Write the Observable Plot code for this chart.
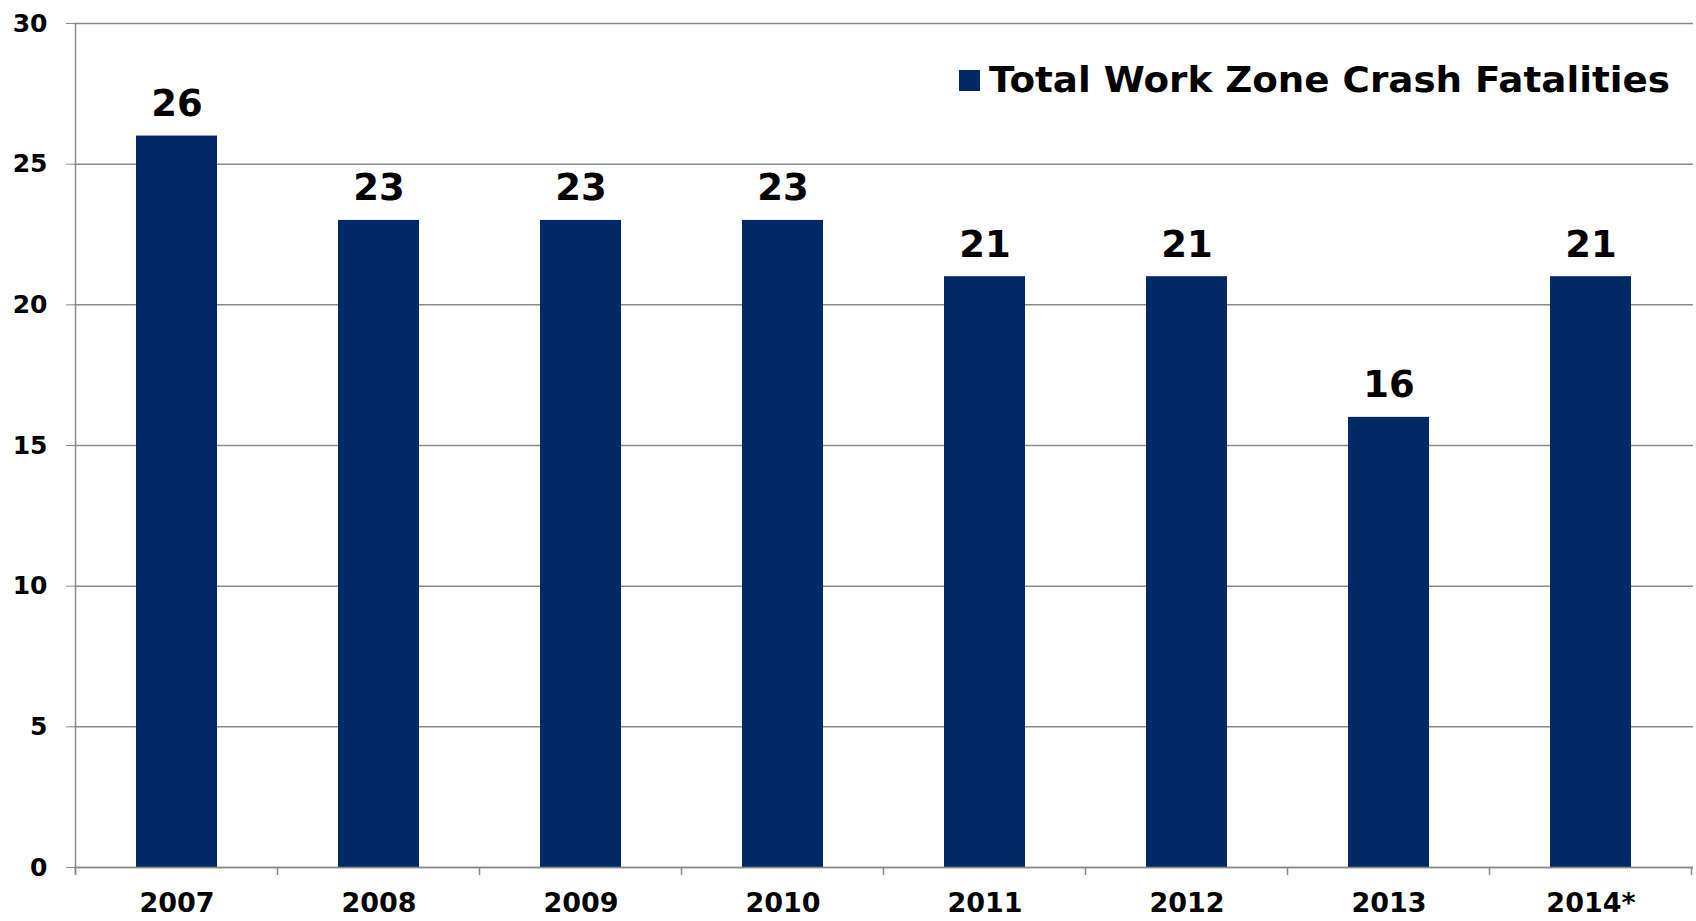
<!DOCTYPE html>
<html>
<head>
<meta charset="utf-8">
<script src="https://cdn.jsdelivr.net/npm/d3@7"></script>
<script src="https://cdn.jsdelivr.net/npm/@observablehq/plot@0.6"></script>
<style>
  html, body { margin: 0; padding: 0; background: #fff; }
  #wrap { position: relative; width: 1696px; height: 921px; }
  #legend { position: absolute; left: 0; top: 0; pointer-events: none; }
</style>
</head>
<body>
<div id="wrap"></div>
<script>
const years = ["2007", "2008", "2009", "2010", "2011", "2012", "2013", "2014*"];
const fatalities = [26, 23, 23, 23, 21, 21, 16, 21];
const yTicks = [0, 5, 10, 15, 20, 25, 30];
const seriesName = "Total Work Zone Crash Fatalities";
const barColor = "#012966";
const gridColor = "#8a8a8a";
const fontFamily = "'DejaVu Sans', Verdana, sans-serif";

const data = years.map((year, i) => ({year, value: fatalities[i]}));

// y-axis line plus ticks at band boundaries on the category axis
function axisFrame(index, scales, values, dimensions) {
  const x = scales.x, y = scales.y;
  const dom = x.domain();
  const bw = x.bandwidth ? x.bandwidth() : 0;
  const step = x.step ? x.step() : (x(dom[1]) - x(dom[0]));
  const off = (step - bw) / 2;
  const xs = dom.map(d => x(d) - off);
  xs.push(x(dom[dom.length - 1]) + bw + off);
  const y0 = y(0);
  const yTop = y(yTicks[yTicks.length - 1]);
  const g = d3.create("svg:g");
  g.append("line")
    .attr("x1", xs[0]).attr("x2", xs[0])
    .attr("y1", yTop).attr("y2", y0 + 8)
    .attr("stroke", gridColor).attr("stroke-width", 1.5);
  g.selectAll("line.bt").data(xs).join("line")
    .attr("class", "bt")
    .attr("x1", d => d).attr("x2", d => d)
    .attr("y1", y0).attr("y2", y0 + 8)
    .attr("stroke", gridColor).attr("stroke-width", 1.5);
  return g.node();
}

const chart = Plot.plot({
  width: 1696,
  height: 921,
  marginLeft: 74,
  marginRight: 3,
  marginTop: 23,
  marginBottom: 54,
  style: {fontFamily, background: "#fff", color: "#000"},
  x: {domain: years, paddingInner: 0.6, paddingOuter: 0.3, label: null},
  y: {domain: [0, 30], label: null},
  marks: [
    Plot.gridY(yTicks, {stroke: gridColor, strokeOpacity: 1, strokeWidth: 1.5}),
    Plot.barY(data, {x: "year", y: "value", fill: barColor}),
    Plot.ruleY([0], {stroke: gridColor, strokeWidth: 1.5}),
    Plot.axisY(yTicks, {
      tickSize: 8, tickPadding: 19, stroke: gridColor, fill: "#000",
      fontSize: 25, fontWeight: "bold", label: null
    }),
    Plot.axisX({
      tickSize: 0, tickPadding: 25, fill: "#000",
      fontSize: 27, fontWeight: "bold", label: null
    }),
    axisFrame,
    Plot.text(data, {
      x: "year", y: "value", text: d => String(d.value),
      lineAnchor: "bottom", dy: -20,
      fontSize: 37, fontWeight: "bold", fill: "#000"
    })
  ]
});

const wrap = document.getElementById("wrap");
wrap.appendChild(chart);

// legend overlay
const leg = d3.select(wrap).append("svg")
  .attr("id", "legend")
  .attr("width", 1696).attr("height", 921);
leg.append("rect")
  .attr("x", 959).attr("y", 70).attr("width", 21).attr("height", 21)
  .attr("fill", barColor);
leg.append("text")
  .attr("x", 989).attr("y", 92)
  .attr("font-family", fontFamily)
  .attr("font-weight", "bold")
  .attr("font-size", 36)
  .attr("textLength", 681)
  .attr("lengthAdjust", "spacingAndGlyphs")
  .attr("fill", "#000")
  .text(seriesName);
</script>
</body>
</html>
